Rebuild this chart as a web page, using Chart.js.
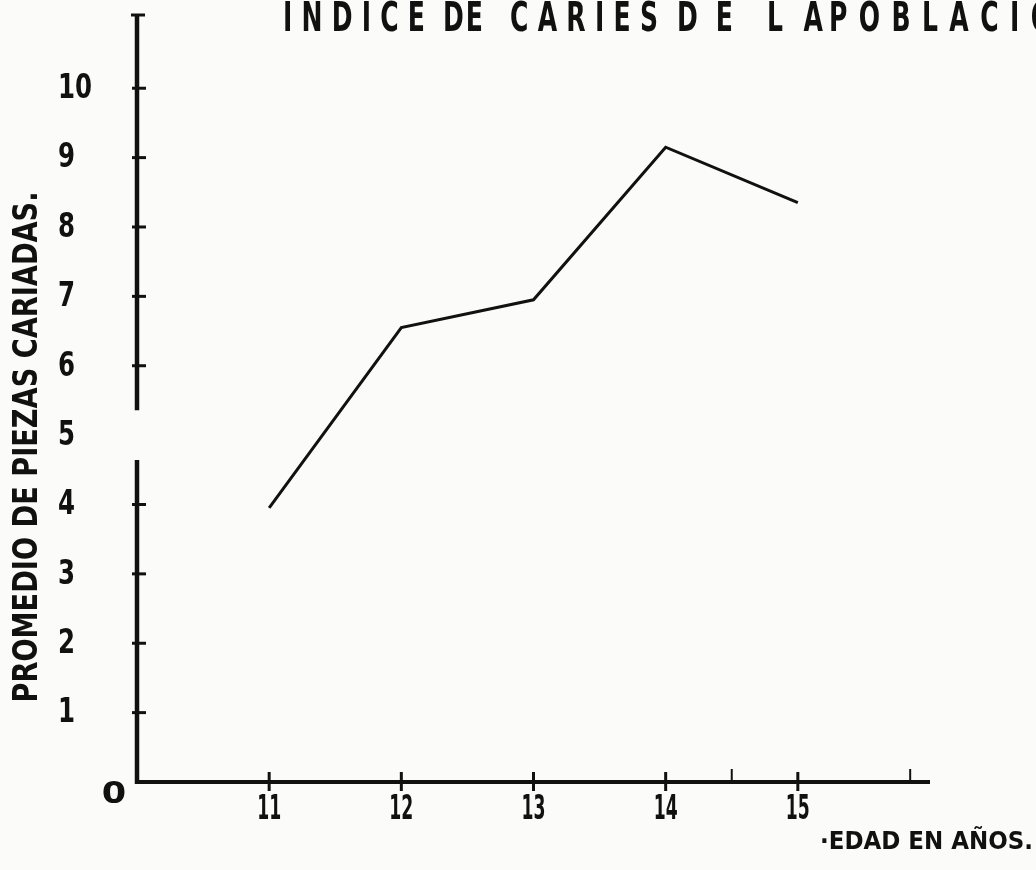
<!DOCTYPE html>
<html>
<head>
<meta charset="utf-8">
<script src="https://cdn.jsdelivr.net/npm/chart.js@4.4.1/dist/chart.umd.min.js"></script>
<style>
  html, body { margin: 0; padding: 0; background: #fbfbf9; }
  #wrap { width: 1036px; height: 870px; position: relative; }
</style>
</head>
<body>
<div id="wrap"><canvas id="myChart"></canvas></div>
<script>
// data
const ages = [11, 12, 13, 14, 15];
const cariesAvg = [3.95, 6.55, 6.95, 9.15, 8.35];

const xTickValues = [11, 12, 13, 14, 15];
const xTickLabels = ['11', '12', '13', '14', '15'];
const xMinorTicks = [14.5, 15.85];
const yTickValues = [1, 2, 3, 4, 5, 6, 7, 8, 9, 10];
const yTickLabels = ['1', '2', '3', '4', '5', '6', '7', '8', '9', '10'];
const originLabel = '0';
const axisBreak = [4.64, 5.36];   // gap drawn in the y axis

const titleWords = ['INDICE', 'DE', 'CARIES', 'DE', 'LA', 'POBLACIO'];
const yTitle = 'PROMEDIO DE PIEZAS CARIADAS.';
const xTitle = '·EDAD EN AÑOS.';

const INK = '#111';
const COND = "'DejaVu Sans Condensed', 'Liberation Sans Narrow', 'DejaVu Sans', sans-serif";

// draw text spread letter by letter over a given width, each glyph squeezed by sx
function spreadText(c, text, x0, x1, y, sx) {
  const chars = text.split('');
  const widths = chars.map(ch => c.measureText(ch).width * sx);
  const total = widths.reduce((a, b) => a + b, 0);
  const gap = chars.length > 1 ? (x1 - x0 - total) / (chars.length - 1) : 0;
  let x = x0;
  chars.forEach((ch, i) => {
    squeezed(c, ch, x, y, sx, 'left');
    x += widths[i] + gap;
  });
}

// draw text squeezed horizontally by factor sx
function squeezed(c, text, x, y, sx, align) {
  c.save();
  c.translate(x, y);
  c.scale(sx, 1);
  c.textAlign = align;
  c.fillText(text, 0, 0);
  c.restore();
}

const scanAxes = {
  id: 'scanAxes',
  beforeDraw(chart) {
    const c = chart.ctx;
    c.save();
    c.fillStyle = '#fbfbf9';
    c.fillRect(0, 0, chart.width, chart.height);
    c.restore();
  },
  beforeDatasetsDraw(chart) {
    const c = chart.ctx;
    const xs = chart.scales.x, ys = chart.scales.y;
    const x0 = xs.getPixelForValue(xs.min);
    const y0 = ys.getPixelForValue(0);
    const yTop = ys.getPixelForValue(ys.max);
    c.save();
    c.strokeStyle = INK;
    c.lineCap = 'butt';

    // y axis with a break near 5
    c.lineWidth = 4.5;
    c.beginPath();
    c.moveTo(x0, yTop);
    c.lineTo(x0, ys.getPixelForValue(axisBreak[1]));
    c.moveTo(x0, ys.getPixelForValue(axisBreak[0]));
    c.lineTo(x0, y0 + 2);
    c.stroke();
    // cap at the top
    c.lineWidth = 3;
    c.beginPath();
    c.moveTo(x0 - 6, yTop + 1);
    c.lineTo(x0 + 8, yTop + 1);
    c.stroke();

    // x axis
    c.lineWidth = 4;
    c.beginPath();
    c.moveTo(x0 - 2, y0);
    c.lineTo(xs.getPixelForValue(xs.max), y0);
    c.stroke();

    // y ticks
    c.lineWidth = 3;
    yTickValues.forEach(v => {
      if (v > axisBreak[0] && v < axisBreak[1]) return;
      const py = ys.getPixelForValue(v);
      c.beginPath();
      c.moveTo(x0 - 5, py);
      c.lineTo(x0 + 9, py);
      c.stroke();
    });

    // x ticks
    xTickValues.forEach(v => {
      const px = xs.getPixelForValue(v);
      c.beginPath();
      c.moveTo(px, y0 - 10);
      c.lineTo(px, y0 + 9);
      c.stroke();
    });
    c.lineWidth = 2;
    xMinorTicks.forEach(v => {
      const px = xs.getPixelForValue(v);
      c.beginPath();
      c.moveTo(px, y0 - 13);
      c.lineTo(px, y0);
      c.stroke();
    });
    c.restore();
  },
  afterDraw(chart) {
    const c = chart.ctx;
    const xs = chart.scales.x, ys = chart.scales.y;
    const y0 = ys.getPixelForValue(0);
    c.save();
    c.fillStyle = INK;

    // title
    c.font = 'bold 41px ' + COND;
    c.textBaseline = 'alphabetic';
    const spans = [[283, 425], [443, 483], [510, 658], [677, 733], [767, 823], [829, 1052]];
    titleWords.forEach((w, i) => spreadText(c, w, spans[i][0], spans[i][1], 31, 0.68));

    // y tick labels
    c.font = 'bold 34px ' + COND;
    c.textBaseline = 'middle';
    yTickValues.forEach((v, i) => {
      squeezed(c, yTickLabels[i], 58, ys.getPixelForValue(v) + 1, 0.8, 'left');
    });

    // origin label
    c.font = 'bold 30px ' + COND;
    squeezed(c, originLabel, 114, y0 + 13, 1.3, 'center');

    // x tick labels
    c.font = 'bold 33px ' + COND;
    xTickValues.forEach((v, i) => {
      squeezed(c, xTickLabels[i], xs.getPixelForValue(v), y0 + 28, 0.58, 'center');
    });

    // y title, rotated
    c.font = 'bold 34px ' + COND;
    c.save();
    c.translate(28, 447);
    c.rotate(-Math.PI / 2);
    const wy = c.measureText(yTitle).width;
    squeezed(c, yTitle, 0, 0, 511 / wy, 'center');
    c.restore();

    // x title
    c.font = 'bold 24px ' + COND;
    c.textBaseline = 'alphabetic';
    const wx = c.measureText(xTitle).width;
    squeezed(c, xTitle, 820, 849, 213 / wx, 'left');

    c.restore();
  }
};

new Chart(document.getElementById('myChart'), {
  type: 'line',
  data: {
    datasets: [{
      label: yTitle,
      data: ages.map((a, i) => ({ x: a, y: cariesAvg[i] })),
      borderColor: INK,
      borderWidth: 3,
      pointRadius: 0,
      tension: 0,
      fill: false
    }]
  },
  options: {
    responsive: true,
    maintainAspectRatio: false,
    animation: false,
    layout: { padding: { left: 137, right: 106, top: 14, bottom: 88 } },
    plugins: {
      legend: { display: false },
      tooltip: { enabled: false },
      title: { display: false }
    },
    scales: {
      x: { type: 'linear', min: 10, max: 16, display: false },
      y: { type: 'linear', min: 0, max: 11.07, display: false }
    }
  },
  plugins: [scanAxes]
});
</script>
</body>
</html>
